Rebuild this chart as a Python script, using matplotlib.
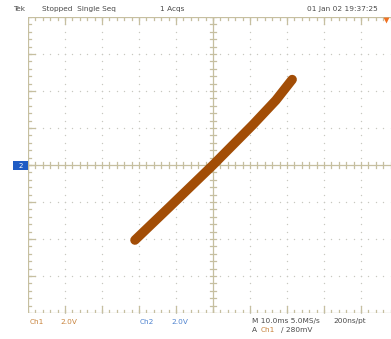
import numpy as np
import matplotlib
matplotlib.use('Agg')
from matplotlib import pyplot as plt
from matplotlib.patches import Rectangle

# XY capture: Ch1 on the horizontal axis, Ch2 on the vertical axis (volts)
ch1_volts = [-4.22, -2.32, 0.0, 2.16, 3.40, 4.28]
ch2_volts = [-4.06, -2.24, 0.0, 2.18, 3.50, 4.62]
ch1_scale = 2.0   # V/div
ch2_scale = 2.0   # V/div

header = ['Tek', 'Stopped  Single Seq', '1 Acqs', '01 Jan 02 19:37:25']
footer_ch = ['Ch1', '2.0V', 'Ch2', '2.0V']
footer_time = ['M 10.0ms 5.0MS/s', '200ns/pt']
trigger = ['A', 'Ch1', '/ 280mV']

W, H = 391, 339
grat = '#c6bfa0'
dot = '#c8c8c0'
trace = '#a24d06'
ch1_col = '#c8843e'
ch2_col = '#4f83cf'
txt = '#4a4a4a'

fig = plt.figure(figsize=(W / 100, H / 100), dpi=100)
fig.patch.set_facecolor('white')

def px(x, y):
    return x / W, 1 - y / H

# graticule: 10 x 8 divisions, 37 px each, centre at (213, 165)
div = 37.0
cx, cy = 213, 165
left = cx - 5 * div
bottom = cy + 4 * div
ax = fig.add_axes([left / W, (H - bottom) / H, (W - left) / W, 8 * div / H])
ax.set_xlim(-5, (W - cx) / div)
ax.set_ylim(-4, 4)
ax.axis('off')

# dotted inner grid
fine_x = np.arange(-5, 5.01, 0.2)
fine_y = np.arange(-4, 4.01, 0.2)
for gx in range(-4, 5):
    if gx == 0:
        continue
    ax.scatter(np.full_like(fine_y, gx), fine_y, s=1.0, color=dot, lw=0)
for gy in range(-3, 4):
    if gy == 0:
        continue
    ax.scatter(fine_x, np.full_like(fine_x, gy), s=1.0, color=dot, lw=0)

# border and centre lines
lw = 0.9
ax.axvline(-5, color=grat, lw=lw)
ax.axhline(4, color=grat, lw=lw)
ax.axhline(-4, color=grat, lw=lw)
ax.axvline(0, color=grat, lw=lw)
ax.axhline(0, color=grat, lw=lw)

# minor ticks on the centre lines and along the edges
t = 0.09
for v in fine_x:
    ax.plot([v, v], [-t, t], color=grat, lw=lw)
    ax.plot([v, v], [4, 4 - t], color=grat, lw=lw)
    ax.plot([v, v], [-4, -4 + t], color=grat, lw=lw)
for v in fine_y:
    ax.plot([-t, t], [v, v], color=grat, lw=lw)
    ax.plot([-5, -5 + t], [v, v], color=grat, lw=lw)
for v in range(-4, 5):
    ax.plot([v, v], [4, 4 - 2 * t], color=grat, lw=lw)
    ax.plot([v, v], [-4, -4 + 2 * t], color=grat, lw=lw)
for v in range(-3, 4):
    ax.plot([-5, -5 + 2 * t], [v, v], color=grat, lw=lw)

# XY trace
xd = np.array(ch1_volts) / ch1_scale
yd = np.array(ch2_volts) / ch2_scale
ax.plot(xd, yd, color=trace, lw=6.8, solid_capstyle='round',
        solid_joinstyle='round', zorder=5)

# trigger position marker (top right)
ax.scatter([(386 - cx) / div], [3.93], marker='v', s=18, color='#f07020',
           lw=0, zorder=6, clip_on=False)

# ground reference marker on the left
fig.patches.append(Rectangle(px(13, 170), 15 / W, 9 / H, transform=fig.transFigure,
                             facecolor='#1f5cc4', edgecolor='none'))
fig.text(*px(20.5, 165.5), '2', color='white', fontsize=5, ha='center', va='center')

fs = 5.3
fig.text(*px(13, 9), header[0], fontsize=fs, color=txt, va='center')
fig.text(*px(42, 9), header[1], fontsize=fs, color=txt, va='center')
fig.text(*px(160, 9), header[2], fontsize=fs, color=txt, va='center')
fig.text(*px(378, 9), header[3], fontsize=fs, color=txt, va='center', ha='right')

fig.text(*px(30, 322), footer_ch[0], fontsize=fs, color=ch1_col, va='center')
fig.text(*px(60, 322), footer_ch[1], fontsize=fs, color=ch1_col, va='center')
fig.text(*px(140, 322), footer_ch[2], fontsize=fs, color=ch2_col, va='center')
fig.text(*px(171, 322), footer_ch[3], fontsize=fs, color=ch2_col, va='center')

fig.text(*px(252, 321), footer_time[0], fontsize=fs, color=txt, va='center')
fig.text(*px(333, 321), footer_time[1], fontsize=fs, color=txt, va='center')
fig.text(*px(252, 330), trigger[0], fontsize=fs, color=txt, va='center')
fig.text(*px(261, 330), trigger[1], fontsize=fs, color=ch1_col, va='center')
fig.text(*px(281, 330), trigger[2], fontsize=fs, color=txt, va='center')

plt.savefig('out.png', dpi=100, facecolor='white')
plt.close('all')
